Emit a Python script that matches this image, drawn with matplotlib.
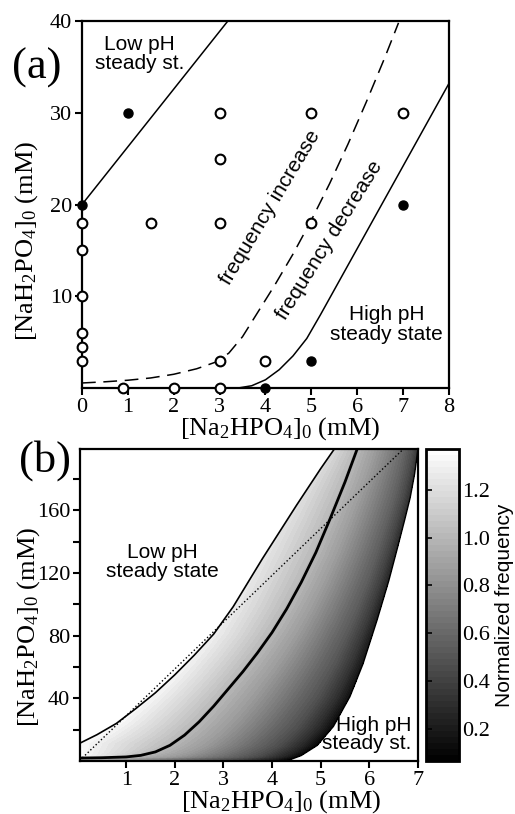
import numpy as np
import matplotlib
matplotlib.use('Agg')
import matplotlib.pyplot as plt

plt.rcParams['font.family'] = ['Liberation Serif', 'DejaVu Serif']
plt.rcParams['mathtext.fontset'] = 'custom'
plt.rcParams['mathtext.rm'] = 'Liberation Serif'
plt.rcParams['mathtext.it'] = 'Liberation Serif:italic'
plt.rcParams['mathtext.bf'] = 'Liberation Serif:bold'
SANS = 'Liberation Sans'

# ---- panel (a): experiments ----
open_x = [0, 0, 0, 0, 0, 0, 1.5, 3, 3, 3, 3, 4, 5, 5, 7, 0.9, 2, 3]
open_y = [18, 15, 10, 6, 4.5, 3, 18, 18, 30, 25, 3, 3, 30, 18, 30, 0, 0, 0]
fill_x = [0, 1, 4, 5, 7]
fill_y = [20, 30, 0, 3, 20]

# boundaries
lowph_x = [0, 3.18]
lowph_y = [20, 40]
dash_x = [0, 0.5, 1.0, 1.5, 2.0, 2.5, 2.9, 3.2, 3.5, 3.8, 4.2, 4.6, 5.0,
          5.4, 5.8, 6.2, 6.6, 6.9]
dash_y = [0.55, 0.68, 0.85, 1.1, 1.5, 2.1, 2.8, 3.8, 5.6, 8.0, 11.2, 14.6,
          18.3, 22.3, 26.6, 31.2, 36.0, 39.8]
highph_x = [3.4, 3.7, 4.0, 4.3, 4.6, 4.9, 5.2, 5.6, 6.0, 6.5, 7.0, 7.5, 8.0]
highph_y = [0, 0.25, 0.9, 2.0, 3.5, 5.4, 8.0, 11.6, 15.2, 19.7, 24.2, 28.7,
            33.2]

# ---- panel (b): model ----
blow_x = [0.05, 0.4, 0.8, 1.2, 1.6, 2.0, 2.4, 2.8, 3.2, 3.8, 4.5, 5.0, 5.28]
blow_y = [11.4, 16.8, 24, 33.5, 43.5, 55, 67.5, 81, 98.4, 129, 163, 186.5, 199]
bmid_x = [0.05, 0.5, 1.0, 1.3, 1.6, 1.9, 2.2, 2.5, 2.8, 3.1, 3.4, 3.7, 4.0,
          4.3, 4.6, 4.9, 5.2, 5.5, 5.75]
bmid_y = [1.9, 2.1, 2.6, 3.6, 5.8, 10, 16.5, 25, 35, 46, 57, 69, 82, 97, 114,
          133, 155, 178, 199]
bhigh_x = [4.3, 4.6, 4.93, 5.26, 5.6, 5.87, 6.16, 6.4, 6.57, 6.72, 6.84,
           6.93, 7.0]
bhigh_y = [0, 3.5, 10, 22, 41, 62, 90, 115, 135, 153, 168, 183, 199]
diag_x = [0.1, 6.7]
diag_y = [2, 199]

# normalized frequency on the two outer edges vs [NaH2PO4]
edge_y = [0, 50, 100, 150, 199]
f_low_edge = [1.36, 1.32, 1.27, 1.22, 1.17]
f_high_edge = [0.07, 0.15, 0.22, 0.28, 0.33]
# drop profile across the band right of the f=1 line
band_t = [0, 0.25, 0.5, 0.75, 0.9, 1.0]
band_w = [0, 0.17, 0.38, 0.6, 0.8, 1.0]

fig = plt.figure(figsize=(5.15, 8.14), dpi=100)

# ================= (a) =================
ax = fig.add_axes([0.1592, 0.5233, 0.7126, 0.4509])
ax.plot(lowph_x, lowph_y, color='black', lw=1.1)
ax.plot(dash_x, dash_y, color='black', lw=1.1, dashes=(9, 5))
ax.plot(highph_x, highph_y, color='black', lw=1.1)
ax.plot(open_x, open_y, 'o', ms=7, mfc='white', mec='black', mew=1.5,
        clip_on=False, zorder=5)
ax.plot(fill_x, fill_y, 'o', ms=6.5, mfc='black', mec='black',
        clip_on=False, zorder=5)
ax.set_xlim(0, 8)
ax.set_ylim(0, 40)
ax.set_xticks(range(0, 9))
ax.set_yticks([10, 20, 30, 40])
ax.tick_params(direction='out', length=5, width=1.5, labelsize=16, pad=2)
for s in ax.spines.values():
    s.set_linewidth(1.6)
ax.set_xlabel(r'[Na$_2$HPO$_4$]$_0$ (mM)', fontsize=19)
ax.set_ylabel(r'[NaH$_2$PO$_4$]$_0$ (mM)', fontsize=19)
ax.xaxis.set_label_coords(0.54, -0.075)
ax.yaxis.set_label_coords(-0.115, 0.40)

ax.text(1.25, 36.4, 'Low pH\nsteady st.', family=SANS, fontsize=15,
        ha='center', va='center', linespacing=1.0)
ax.text(4.1, 19.7, 'frequency increase', family=SANS, fontsize=15,
        rotation=59, ha='center', va='center', rotation_mode='anchor')
ax.text(5.4, 16.1, 'frequency decrease', family=SANS, fontsize=15,
        rotation=58, ha='center', va='center', rotation_mode='anchor')
ax.text(6.64, 6.9, 'High pH\nsteady state', family=SANS, fontsize=15,
        ha='center', va='center', linespacing=1.1)

# ================= (b) =================
bx = fig.add_axes([0.1553, 0.0651, 0.6563, 0.3833])
gx = np.linspace(0.05, 7, 700)
gy = np.linspace(0, 199, 700)
X, Y = np.meshgrid(gx, gy)
xl = np.interp(Y, blow_y, blow_x)
xm = np.interp(Y, bmid_y, bmid_x)
xr = np.interp(Y, bhigh_y, bhigh_x)
fl = np.interp(Y, edge_y, f_low_edge)
fr = np.interp(Y, edge_y, f_high_edge)
tl = np.clip((X - xl) / np.maximum(xm - xl, 1e-6), 0, 1)
vl = fl + (1 - fl) * tl
tr = np.clip((X - xm) / np.maximum(xr - xm, 1e-6), 0, 1)
vr = 1 + (fr - 1) * np.interp(tr, band_t, band_w)
Z = np.where(X <= xm, vl, vr)
inside = (X >= xl) & (X <= xr)
Z = np.ma.masked_where(~inside, Z)
levels = np.linspace(0.067, 1.37, 53)
cs = bx.contourf(X, Y, Z, levels=levels, cmap='gray')

bx.plot(blow_x, blow_y, color='black', lw=1.2)
bx.plot(bmid_x, bmid_y, color='black', lw=2.0)
bx.plot(bhigh_x, bhigh_y, color='black', lw=1.0)
bx.plot(diag_x, diag_y, color='black', lw=1.0, ls=':')
bx.set_xlim(0.05, 7)
bx.set_ylim(0, 199)
bx.set_xticks(range(1, 8))
bx.set_yticks([40, 80, 120, 160])
bx.set_yticks([20, 60, 100, 140, 180], minor=True)
bx.tick_params(which='both', direction='out', length=5, width=1.5,
               labelsize=16, pad=2)
for s in bx.spines.values():
    s.set_linewidth(1.6)
bx.set_xlabel(r'[Na$_2$HPO$_4$]$_0$ (mM)', fontsize=19)
bx.set_ylabel(r'[NaH$_2$PO$_4$]$_0$ (mM)', fontsize=19)
bx.xaxis.set_label_coords(0.595, -0.088)
bx.yaxis.set_label_coords(-0.112, 0.43)

bx.text(1.74, 127, 'Low pH\nsteady state', family=SANS, fontsize=15,
        ha='center', va='center', linespacing=1.0)
bx.text(6.87, 17, 'High pH\nsteady st.', family=SANS, fontsize=15,
        ha='right', va='center', multialignment='right', linespacing=0.95)

cax = fig.add_axes([0.8272, 0.0651, 0.0641, 0.3833])
cb = fig.colorbar(cs, cax=cax, ticks=[0.2, 0.4, 0.6, 0.8, 1.0, 1.2])
cb.outline.set_linewidth(2)
cax.yaxis.set_tick_params(left=True, right=False, labelleft=False,
                          labelright=True, direction='in', length=4,
                          width=1.2, labelsize=16, pad=2)
cb.set_label('Normalized frequency', family=SANS, fontsize=15, labelpad=4)

fig.text(0.072, 0.9165, '(a)', fontsize=32, ha='center', va='center')
fig.text(0.087, 0.4337, '(b)', fontsize=32, ha='center', va='center')

fig.savefig('out.png', dpi=100)
